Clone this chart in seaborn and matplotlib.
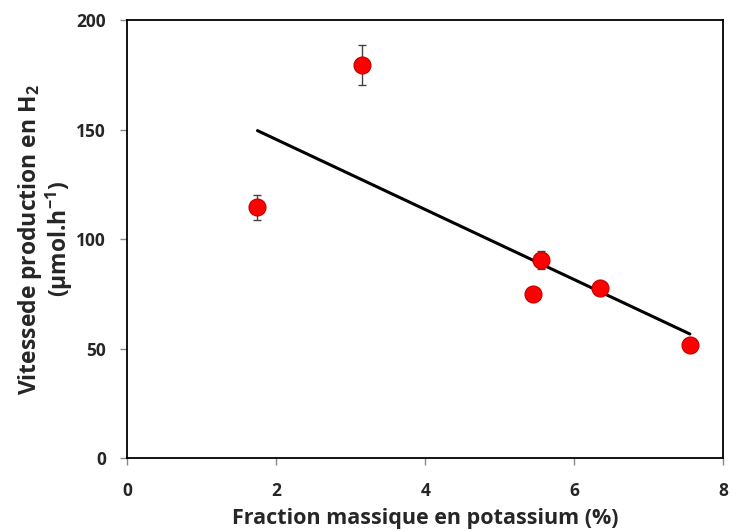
import numpy as np
import pandas as pd
import seaborn as sns
import matplotlib.pyplot as plt

# données
potassium = [1.75, 3.15, 5.45, 5.55, 6.35, 7.55]
vitesse = [114.5, 179.5, 75.0, 90.5, 77.5, 51.5]
erreur = [5.5, 9.0, 0.0, 4.0, 2.5, 0.0]

df = pd.DataFrame({"potassium": potassium, "vitesse": vitesse, "erreur": erreur})

sns.set_style("white")
plt.rcParams['font.family'] = ['Open Sans', 'DejaVu Sans']
plt.rcParams['mathtext.fontset'] = 'custom'
plt.rcParams['mathtext.rm'] = 'Open Sans:bold'
plt.rcParams['mathtext.bf'] = 'Open Sans:bold'
plt.rcParams['mathtext.default'] = 'bf'

fig = plt.figure(figsize=(7.3, 5.31), dpi=100)
ax = fig.add_axes([0.174, 0.137, 0.817, 0.825])

# droite de tendance
sns.regplot(data=df, x="potassium", y="vitesse", ci=None, scatter=False, truncate=True,
            line_kws={"color": "black", "lw": 2.2}, ax=ax)

ax.errorbar(df["potassium"], df["vitesse"], yerr=df["erreur"], fmt="none",
            ecolor="#444444", elinewidth=1, capsize=3, capthick=1, zorder=3)
sns.scatterplot(data=df, x="potassium", y="vitesse", s=150, color="#ff0000",
                edgecolor="#c00000", linewidth=0.8, zorder=4, ax=ax)

ax.set_xlim(0, 8)
ax.set_ylim(0, 200)
ax.set_xticks([0, 2, 4, 6, 8])
ax.set_yticks([0, 50, 100, 150, 200])

for s in ax.spines.values():
    s.set_color("black")
    s.set_linewidth(1.3)

ax.tick_params(axis="both", which="major", direction="out", length=5, width=1,
               color="#888888", labelsize=12.5, bottom=True, left=True)
ax.tick_params(axis="x", pad=12)
ax.tick_params(axis="y", pad=10)
for lab in ax.get_xticklabels() + ax.get_yticklabels():
    lab.set_fontweight("bold")

ax.set_xlabel("Fraction massique en potassium (%)", fontsize=15.5, fontweight="bold", labelpad=6)
ax.set_ylabel("Vitessede production en H$_2$\n(µmol.h$^{-1}$)",
              fontsize=16.5, fontweight="bold", labelpad=1, linespacing=1.0)

fig.savefig("out.png", dpi=100)
